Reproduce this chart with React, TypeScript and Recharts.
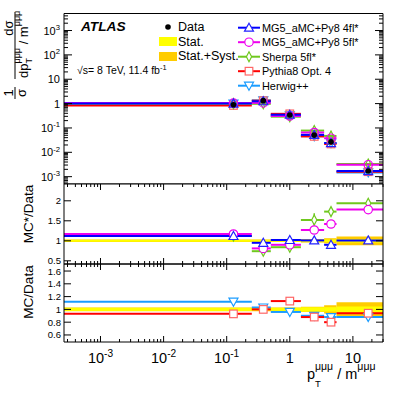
import React from 'react';
import { ComposedChart, Scatter, ErrorBar, XAxis, YAxis, ReferenceArea } from 'recharts';

// bins of pT(3mu)/m(3mu)
const binEdges = [0, 0.25, 0.5, 1.5, 3.5, 5.5, 30];
const binCenters = [0.128, 0.38, 1.0, 2.44, 4.5, 17.5];

// normalised cross-section
const dataValues = [0.9, 1.32, 0.34, 0.051, 0.027, 0.0017];
const mg4flTop = [1.0, 1.25, 0.35, 0.052, 0.024, 0.0017];
const mg5flTop = [1.05, 1.07, 0.31, 0.065, 0.038, 0.0031];
const sherpaTop = [1.0, 0.98, 0.29, 0.078, 0.047, 0.0033];
const pythiaTop = [0.84, 1.32, 0.38, 0.045, 0.022, 0.0016];
const herwigTop = [1.0, 1.36, 0.33, 0.046, 0.024, 0.0015];

// MC*/Data
const mg4flRatio = [1.12, 0.95, 1.02, 1.01, 0.9, 1.01];
const mg5flRatio = [1.17, 0.81, 0.9, 1.27, 1.42, 1.78];
const sherpaRatio = [1.12, 0.74, 0.84, 1.52, 1.73, 1.94];
const mg4flRatioErr = [0.02, 0.05, 0.04, 0.05, 0.05, 0.03];
const mg5flRatioErr = [0.02, 0.04, 0.04, 0.07, 0.04, 0.03];
const sherpaRatioErr = [0.02, 0.09, 0.05, 0.17, 0.05, 0.03];

// MC/Data
const pythiaRatio = [0.93, 1.0, 1.13, 0.88, 0.8, 0.94];
const herwigRatio = [1.12, 1.03, 0.96, 0.9, 0.88, 0.88];
const pythiaRatioErr = [0.01, 0.02, 0.02, 0.02, 0.04, 0.02];
const herwigRatioErr = [0.01, 0.02, 0.02, 0.02, 0.03, 0.03];

// relative data uncertainties
const statErr = [0.025, 0.025, 0.025, 0.035, 0.035, 0.045];
const totalErr = [0.03, 0.03, 0.03, 0.04, 0.065, 0.11];

const W = 407;
const H = 397;
const PLOT_L = 64;
const PLOT_R = 383;
const X_MIN = 2.64e-4;
const X_MAX = 30;
const PAD = 8; // extra room above/below ratio pads so tick labels are not clipped
const FONT = '"Liberation Sans", Arial, Helvetica, sans-serif';

const series = {
  mg4: { name: 'MG5_aMC+Py8 4fl*', color: '#0000ff', markerColor: '#2222ff', marker: 'triUp' },
  mg5: { name: 'MG5_aMC+Py8 5fl*', color: '#ee00ee', markerColor: '#ee00ee', marker: 'circle' },
  sherpa: { name: 'Sherpa 5fl*', color: '#6fc81e', markerColor: '#6fc81e', marker: 'diamond' },
  pythia: { name: 'Pythia8 Opt. 4', color: '#ff0000', markerColor: '#ff6666', marker: 'square' },
  herwig: { name: 'Herwig++', color: '#1a9cff', markerColor: '#1a9cff', marker: 'triDown' },
};
type S = (typeof series)['mg4'];

function logTicks(lo: number, hi: number) {
  const out: number[] = [];
  for (let e = Math.floor(Math.log10(lo)); e <= Math.ceil(Math.log10(hi)); e++) {
    for (let m = 1; m <= 9; m++) {
      const v = m * Math.pow(10, e);
      if (v >= lo && v <= hi) out.push(v);
    }
  }
  return out;
}
const isDecade = (v: number) => Math.abs(Math.log10(v) - Math.round(Math.log10(v))) < 1e-6;

function rows(values: number[], yErrs?: number[]) {
  return binCenters.map((c, i) => {
    const lo = Math.max(binEdges[i], X_MIN);
    const hi = Math.min(binEdges[i + 1], X_MAX);
    const e = yErrs ? yErrs[i] : 0;
    return { x: c, y: values[i], xErr: [c - lo, hi - c], yErr: [e, e] };
  });
}

function Marker({ type, cx, cy, color, fill }: any) {
  if (cx == null || cy == null) return null;
  const sw = 1.2;
  switch (type) {
    case 'triUp':
      return <polygon points={`${cx},${cy - 4.5} ${cx + 4.5},${cy + 3.5} ${cx - 4.5},${cy + 3.5}`} fill={fill} stroke={color} strokeWidth={sw} />;
    case 'triDown':
      return <polygon points={`${cx},${cy + 4.5} ${cx + 4.5},${cy - 3.5} ${cx - 4.5},${cy - 3.5}`} fill={fill} stroke={color} strokeWidth={sw} />;
    case 'circle':
      return <circle cx={cx} cy={cy} r={4.2} fill={fill} stroke={color} strokeWidth={sw} />;
    case 'diamond':
      return <polygon points={`${cx},${cy - 5} ${cx + 2.6},${cy} ${cx},${cy + 5} ${cx - 2.6},${cy}`} fill={fill} stroke={color} strokeWidth={sw} />;
    case 'square':
      return <rect x={cx - 3.8} y={cy - 3.8} width={7.6} height={7.6} fill={fill} stroke={color} strokeWidth={sw} />;
    default:
      return <circle cx={cx} cy={cy} r={2.8} fill="#000" />;
  }
}

function LogLabel({ x, y, v, anchor, size }: any) {
  const e = Math.round(Math.log10(v));
  const common = { x, y, textAnchor: anchor, fontSize: size, fontFamily: FONT, fill: '#000' };
  if (e === 0) return <text {...common}>1</text>;
  if (e === 1) return <text {...common}>10</text>;
  return (
    <text {...common}>
      10<tspan dy={-size * 0.42} fontSize={size * 0.7}>{String(e)}</tspan>
    </text>
  );
}

// x ticks drawn inward at bottom and top of a pad
function makeXTick(top: number, bottom: number, labels: boolean) {
  return (p: any) => {
    const v = p.payload.value;
    const x = p.x;
    const major = isDecade(v);
    const len = major ? 6 : 3;
    return (
      <g>
        <line x1={x} x2={x} y1={bottom} y2={bottom - len} stroke="#000" />
        <line x1={x} x2={x} y1={top} y2={top + len} stroke="#000" />
        {labels && major && <LogLabel x={x} y={bottom + 21} v={v} anchor="middle" size={14.5} />}
      </g>
    );
  };
}

const topYTick = (p: any) => {
  const v = p.payload.value;
  const y = p.y;
  const major = isDecade(v);
  const len = major ? 8 : 4;
  return (
    <g>
      <line x1={PLOT_L} x2={PLOT_L + len} y1={y} y2={y} stroke="#000" />
      <line x1={PLOT_R} x2={PLOT_R - len} y1={y} y2={y} stroke="#000" />
      {major && <LogLabel x={PLOT_L - 4} y={y + 4} v={v} anchor="end" size={11} />}
    </g>
  );
};

const ratioYTick = (p: any) => {
  const v = p.payload.value;
  const y = p.y;
  return (
    <g>
      <line x1={PLOT_L} x2={PLOT_L + 7} y1={y} y2={y} stroke="#000" />
      <line x1={PLOT_R} x2={PLOT_R - 7} y1={y} y2={y} stroke="#000" />
      <text x={PLOT_L - 3} y={y + 3.5} textAnchor="end" fontSize={9.5} fontFamily={FONT}>
        {String(v)}
      </text>
    </g>
  );
};

function mcScatter(s: S, values: number[], yErrs: number[] | undefined, fill: string, key: string) {
  return (
    <Scatter
      key={key}
      data={rows(values, yErrs)}
      isAnimationActive={false}
      shape={(p: any) => <Marker type={s.marker} cx={p.cx} cy={p.cy} color={s.markerColor} fill={fill} />}
    >
      <ErrorBar dataKey="xErr" direction="x" width={0} stroke={s.color} strokeWidth={2} />
      {yErrs && <ErrorBar dataKey="yErr" direction="y" width={0} stroke={s.color} strokeWidth={1.5} />}
    </Scatter>
  );
}

function bandAreas(yMid: number) {
  const out: React.ReactNode[] = [];
  binCenters.forEach((_, i) => {
    const x1 = Math.max(binEdges[i], X_MIN);
    const x2 = Math.min(binEdges[i + 1], X_MAX);
    out.push(
      <ReferenceArea key={`t${i}`} x1={x1} x2={x2} y1={yMid - totalErr[i]} y2={yMid + totalErr[i]}
        fill="#ffcc00" fillOpacity={1} stroke="none" ifOverflow="hidden" zIndex={-50} />,
      <ReferenceArea key={`s${i}`} x1={x1} x2={x2} y1={yMid - statErr[i]} y2={yMid + statErr[i]}
        fill="#ffff00" fillOpacity={1} stroke="none" ifOverflow="hidden" zIndex={-40} />
    );
  });
  return out;
}

const xTicks = logTicks(X_MIN, X_MAX);

const TOP_Y: [number, number] = [5e-4, 5000];
const MID_Y: [number, number] = [0.42, 2.42];
const LOW_Y: [number, number] = [0.49, 1.71];

function TopPad() {
  return (
    <ComposedChart width={W} height={184} margin={{ top: 13.5, right: W - PLOT_R, bottom: 0, left: 0 }}>
      <XAxis type="number" dataKey="x" scale="log" domain={[X_MIN, X_MAX]} allowDataOverflow
        ticks={xTicks} interval={0} tickSize={0} tickMargin={0} height={0} axisLine={false} tickLine={false}
        tick={makeXTick(13.5, 184, false)} />
      <YAxis type="number" dataKey="y" scale="log" domain={TOP_Y} allowDataOverflow width={PLOT_L}
        ticks={logTicks(TOP_Y[0], TOP_Y[1])} interval={0} tickSize={0} tickMargin={0} axisLine={false} tickLine={false}
        tick={topYTick} />
      {mcScatter(series.herwig, herwigTop, undefined, 'none', 'h')}
      {mcScatter(series.pythia, pythiaTop, undefined, 'none', 'p')}
      {mcScatter(series.sherpa, sherpaTop, undefined, 'none', 's')}
      {mcScatter(series.mg5, mg5flTop, undefined, 'none', 'm5')}
      {mcScatter(series.mg4, mg4flTop, undefined, 'none', 'm4')}
      <Scatter data={rows(dataValues)} isAnimationActive={false}
        shape={(p: any) => <Marker type="dot" cx={p.cx} cy={p.cy} />} />
      <ReferenceArea x1={X_MIN} x2={X_MAX} y1={TOP_Y[0]} y2={TOP_Y[1]} fill="none" stroke="#000" strokeWidth={1} zIndex={2000} />
    </ComposedChart>
  );
}

function MidPad() {
  const plotH = 80;
  return (
    <ComposedChart width={W} height={plotH + 2 * PAD} margin={{ top: PAD, right: W - PLOT_R, bottom: 0, left: 0 }}>
      <XAxis type="number" dataKey="x" scale="log" domain={[X_MIN, X_MAX]} allowDataOverflow
        ticks={xTicks} interval={0} tickSize={0} tickMargin={0} height={PAD} axisLine={false} tickLine={false}
        tick={makeXTick(PAD, PAD + plotH, false)} />
      <YAxis type="number" dataKey="y" domain={MID_Y} allowDataOverflow width={PLOT_L}
        ticks={[0.5, 1, 1.5, 2]} interval={0} tickSize={0} tickMargin={0} axisLine={false} tickLine={false}
        tick={ratioYTick} />
      {bandAreas(1)}
      {mcScatter(series.sherpa, sherpaRatio, sherpaRatioErr, '#fff', 's')}
      {mcScatter(series.mg5, mg5flRatio, mg5flRatioErr, '#fff', 'm5')}
      {mcScatter(series.mg4, mg4flRatio, mg4flRatioErr, '#fff', 'm4')}
      <ReferenceArea x1={X_MIN} x2={X_MAX} y1={MID_Y[0]} y2={MID_Y[1]} fill="none" stroke="#000" strokeWidth={1} zIndex={2000} />
    </ComposedChart>
  );
}

function LowPad() {
  const plotH = 78;
  const total = H - 264 + PAD;
  return (
    <ComposedChart width={W} height={total} margin={{ top: PAD, right: W - PLOT_R, bottom: 0, left: 0 }}>
      <XAxis type="number" dataKey="x" scale="log" domain={[X_MIN, X_MAX]} allowDataOverflow
        ticks={xTicks} interval={0} tickSize={0} tickMargin={0} height={total - PAD - plotH} axisLine={false} tickLine={false}
        tick={makeXTick(PAD, PAD + plotH, true)} />
      <YAxis type="number" dataKey="y" domain={LOW_Y} allowDataOverflow width={PLOT_L}
        ticks={[0.6, 0.8, 1, 1.2, 1.4, 1.6]} interval={0} tickSize={0} tickMargin={0} axisLine={false} tickLine={false}
        tick={ratioYTick} />
      {bandAreas(1)}
      {mcScatter(series.herwig, herwigRatio, herwigRatioErr, '#fff', 'h')}
      {mcScatter(series.pythia, pythiaRatio, pythiaRatioErr, '#fff', 'p')}
      <ReferenceArea x1={X_MIN} x2={X_MAX} y1={LOW_Y[0]} y2={LOW_Y[1]} fill="none" stroke="#000" strokeWidth={1} zIndex={2000} />
    </ComposedChart>
  );
}

function Overlay() {
  const legendRows = [series.mg4, series.mg5, series.sherpa, series.pythia, series.herwig];
  return (
    <svg width={W} height={H} style={{ position: 'absolute', left: 0, top: 0, pointerEvents: 'none' }} fontFamily={FONT}>
      <text x={81} y={30.5} fontSize={13.7} fontWeight="bold" fontStyle="italic">ATLAS</text>
      <text x={77} y={74} fontSize={10.5}>
        √s= 8 TeV, 11.4 fb<tspan dy={-4} fontSize={7.5}>-1</tspan>
      </text>

      <circle cx={168} cy={27} r={2.8} fill="#000" />
      <text x={178} y={30.7} fontSize={12.5}>Data</text>
      <rect x={159} y={37} width={18} height={9} fill="#ffff00" />
      <text x={178} y={45.7} fontSize={12.5}>Stat.</text>
      <rect x={159} y={52} width={18} height={9} fill="#ffcc00" />
      <text x={178} y={60.3} fontSize={12.5}>Stat.+Syst.</text>

      {legendRows.map((s, i) => {
        const cy = 27.7 + i * 14.5;
        return (
          <g key={s.name}>
            <line x1={238} x2={260} y1={cy} y2={cy} stroke={s.color} strokeWidth={2} />
            <Marker type={s.marker} cx={249} cy={cy} color={s.markerColor} fill="#fff" />
            <text x={262} y={cy + 4} fontSize={10.9}>{s.name}</text>
          </g>
        );
      })}

      <g transform="translate(15,93) rotate(-90)" fontSize={13}>
        <text x={0} y={-2.5} textAnchor="middle">1</text>
        <line x1={-6} x2={6} y1={0} y2={0} stroke="#000" strokeWidth={1} />
        <text x={0} y={11} textAnchor="middle">σ</text>
      </g>
      <g transform="translate(15,46) rotate(-90)" fontSize={13}>
        <text x={18} y={-2.5} textAnchor="middle">dσ</text>
        <line x1={-33} x2={34} y1={0} y2={0} stroke="#000" strokeWidth={1} />
        <text x={-32} y={13}>
          dp<tspan dy={4} fontSize={9}>T</tspan>
          <tspan dx={-5.5} dy={-12} fontSize={9}>μμμ</tspan>
          <tspan dy={8}> / m</tspan>
          <tspan dy={-8} fontSize={9}>μμμ</tspan>
        </text>
      </g>

      <text transform="translate(33,214) rotate(-90)" textAnchor="middle" fontSize={13.5}>MC*/Data</text>
      <text transform="translate(33,292) rotate(-90)" textAnchor="middle" fontSize={13.5}>MC/Data</text>

      <text x={375.5} y={379} textAnchor="end" fontSize={14.5}>
        p<tspan dy={8} fontSize={9.5}>T</tspan>
        <tspan dx={-5.8} dy={-17.5} fontSize={10.5}>μμμ</tspan>
        <tspan dy={9.5}> / m</tspan>
        <tspan dy={-9.5} fontSize={10.5}>μμμ</tspan>
      </text>
    </svg>
  );
}

export default function App() {
  return (
    <div style={{ position: 'absolute', left: 0, top: 0, width: W, height: H, background: '#fff', fontFamily: FONT }}>
      <div style={{ position: 'absolute', left: 0, top: 0 }}>
        <TopPad />
      </div>
      <div style={{ position: 'absolute', left: 0, top: 184 - PAD }}>
        <MidPad />
      </div>
      <div style={{ position: 'absolute', left: 0, top: 264 - PAD }}>
        <LowPad />
      </div>
      <Overlay />
    </div>
  );
}
